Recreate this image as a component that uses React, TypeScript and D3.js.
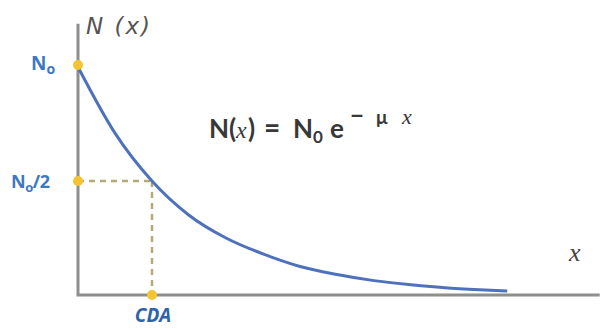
import React, { useEffect, useRef } from "react"
import * as d3 from "d3"

// points (x in CDA units, N as fraction of N0)
const xs = [0, 0.5, 1, 1.5, 2, 2.5, 3, 3.5, 4, 4.5, 5, 5.5, 5.8]
const ns = [1, 0.71, 0.5, 0.35, 0.25, 0.18, 0.125, 0.09, 0.063, 0.045, 0.031, 0.022, 0.018]
const halfX = 1
const halfN = 0.5

function App() {
  const ref = useRef<SVGSVGElement>(null)

  useEffect(() => {
    const width = 601
    const height = 329
    const svg = d3.select(ref.current).attr("width", width).attr("height", height)
    svg.selectAll("*").remove()

    const x = d3.scaleLinear().domain([0, 7]).range([78, 596])
    const y = d3.scaleLinear().domain([0, 1]).range([295, 67])

    const axisColor = "#8e8e8e"
    // axes
    svg.append("path")
      .attr("d", `M${x(0)},${y(1.19)} V${y(0)} H${x(7.05)}`)
      .attr("fill", "none")
      .attr("stroke", axisColor)
      .attr("stroke-width", 3)

    // dashed guides
    const dash = svg.append("g")
      .attr("stroke", "#b3aa78")
      .attr("stroke-width", 2.5)
      .attr("stroke-dasharray", "6,5")
    dash.append("line")
      .attr("x1", x(0)).attr("y1", y(halfN))
      .attr("x2", x(halfX)).attr("y2", y(halfN))
    dash.append("line")
      .attr("x1", x(halfX)).attr("y1", y(halfN))
      .attr("x2", x(halfX)).attr("y2", y(0))

    // curve
    const line = d3.line<number>()
      .x((d, i) => x(xs[i]))
      .y(d => y(d))
      .curve(d3.curveMonotoneX)
    svg.append("path")
      .datum(ns)
      .attr("d", line)
      .attr("fill", "none")
      .attr("stroke", "#4d72bb")
      .attr("stroke-width", 3)

    // yellow markers
    const dots: [number, number][] = [[0, 1], [0, halfN], [halfX, 0]]
    svg.append("g")
      .selectAll("circle")
      .data(dots)
      .join("circle")
      .attr("cx", d => x(d[0]))
      .attr("cy", d => y(d[1]) - (d[1] === 1 ? 2 : 0))
      .attr("r", 5)
      .attr("fill", "#f4c430")

    const blue = "#3f78c2"
    // N0 label
    const n0 = svg.append("text")
      .attr("x", 31).attr("y", y(1) + 3)
      .attr("font-family", "Open Sans, sans-serif")
      .attr("font-weight", "bold")
      .attr("font-size", 19)
      .attr("fill", blue)
    n0.append("tspan").text("N")
    n0.append("tspan").attr("font-size", 14).attr("dy", 4).text("o")

    const n2 = svg.append("text")
      .attr("x", 11).attr("y", y(halfN) + 7)
      .attr("font-family", "Open Sans, sans-serif")
      .attr("font-weight", "bold")
      .attr("font-size", 18)
      .attr("letter-spacing", -0.5)
      .attr("fill", blue)
    n2.append("tspan").text("N")
    n2.append("tspan").attr("font-size", 13).attr("dy", 4).text("o")
    n2.append("tspan").attr("dy", -4).text("/2")

    svg.append("text")
      .attr("x", x(halfX) + 1).attr("y", 322)
      .attr("text-anchor", "middle")
      .attr("font-family", "Open Sans, sans-serif")
      .attr("font-weight", "bold")
      .attr("font-style", "italic")
      .attr("font-size", 19)
      .attr("fill", "#2f63a8")
      .text("CDA")

    // axis titles
    svg.append("text")
      .attr("x", 86).attr("y", 34)
      .attr("font-family", "DejaVu Sans, sans-serif")
      .attr("font-style", "italic")
      .attr("font-size", 23)
      .attr("letter-spacing", 2)
      .attr("fill", "#555")
      .text("N (x)")

    svg.append("text")
      .attr("x", 569).attr("y", 261)
      .attr("font-family", "Liberation Serif, serif")
      .attr("font-style", "italic")
      .attr("font-size", 26)
      .attr("fill", "#444")
      .text("x")

    // formula, glyphs placed like the typeset original
    const fb = 138
    const f = svg.append("g").attr("fill", "#383838")
    const put = (t: string, px: number, py: number, size = 26, ital = false) =>
      f.append("text")
        .attr("x", px).attr("y", py)
        .attr("font-size", size)
        .attr("font-style", ital ? "italic" : "normal")
        .attr("font-weight", ital ? "normal" : "bold")
        .attr("font-family", ital ? "Liberation Serif, serif" : "Lato, sans-serif")
        .text(t)
    put("N(", 209, fb)
    put("x", 236, fb, 24, true)
    put(")", 248, fb)
    put("=", 264, fb, 28)
    put("N", 293, fb)
    put("0", 313, fb + 5, 17)
    put("e", 330, fb)
    put("−", 350, fb - 14, 24)
    put("μ", 376, fb - 14, 19)
    put("x", 402, fb - 14, 22, true)
  }, [])

  return (
    <div style={{ position: "absolute", left: 0, top: 0, width: 601, height: 329 }}>
      <svg ref={ref} style={{ display: "block" }} />
    </div>
  )
}

export default App
